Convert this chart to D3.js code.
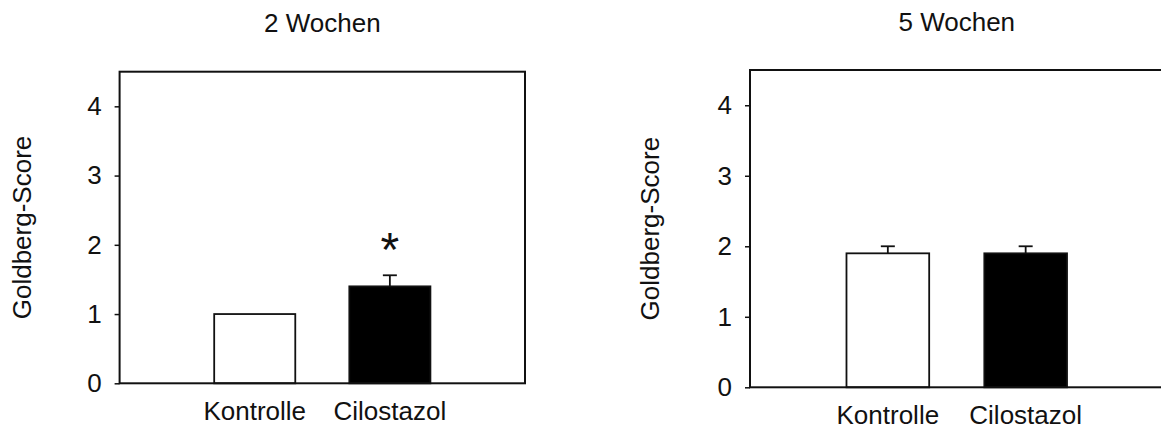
<!DOCTYPE html>
<html>
<head>
<meta charset="utf-8">
<script src="https://cdn.jsdelivr.net/npm/d3@7"></script>
<style>
  html, body { margin: 0; padding: 0; background: #fff; }
  svg { display: block; }
  text { font-family: "Liberation Sans", Arial, sans-serif; fill: #111; }
</style>
</head>
<body>
<svg id="chart" width="1161" height="434"></svg>
<script>
// Goldberg score after 2 and 5 weeks: control vs. cilostazol (mean + SEM)
const categories = ["Kontrolle", "Cilostazol"];
const panelTitles = ["2 Wochen", "5 Wochen"];
const means2w = [1.0, 1.4];
const sem2w = [0, 0.16];
const sig2w = [false, true];
const means5w = [1.9, 1.9];
const sem5w = [0.1, 0.1];
const sig5w = [false, false];
const yTicks = [0, 1, 2, 3, 4];
const yMax = 4.5;
const yTitle = "Goldberg-Score";
const barFills = ["#ffffff", "#000000"];

const panels = [
  { title: panelTitles[0], means: means2w, sems: sem2w, sig: sig2w,
    x0: 119.6, x1: 525, yTop: 71.7, yBottom: 383.3, titleY: 32, labelY: 420, yLabelX: 31 },
  { title: panelTitles[1], means: means5w, sems: sem5w, sig: sig5w,
    x0: 750, x1: 1163.5, yTop: 70, yBottom: 387.3, titleY: 30.5, labelY: 424, yLabelX: 659 }
];

const svg = d3.select("#chart");
const ink = "#111";
const fontSize = 26;

panels.forEach(p => {
  const g = svg.append("g");

  const x = d3.scalePoint().domain(categories).range([p.x0, p.x1]).padding(1);
  const y = d3.scaleLinear().domain([0, yMax]).range([p.yBottom, p.yTop]);
  const barW = x.step() * 0.6;

  const rows = categories.map((c, i) => ({ cat: c, mean: p.means[i], sem: p.sems[i], sig: p.sig[i], fill: barFills[i] }));

  // bars
  g.selectAll("rect.bar").data(rows).join("rect")
    .attr("class", "bar")
    .attr("x", d => x(d.cat) - barW / 2)
    .attr("y", d => y(d.mean))
    .attr("width", barW)
    .attr("height", d => y(0) - y(d.mean))
    .attr("fill", d => d.fill)
    .attr("stroke", ink)
    .attr("stroke-width", 1.8);

  // upward error bars (SEM)
  const err = rows.filter(d => d.sem > 0);
  g.selectAll("line.err").data(err).join("line")
    .attr("class", "err")
    .attr("x1", d => x(d.cat)).attr("x2", d => x(d.cat))
    .attr("y1", d => y(d.mean)).attr("y2", d => y(d.mean + d.sem))
    .attr("stroke", ink).attr("stroke-width", 1.8);
  g.selectAll("line.cap").data(err).join("line")
    .attr("class", "cap")
    .attr("x1", d => x(d.cat) - 7).attr("x2", d => x(d.cat) + 7)
    .attr("y1", d => y(d.mean + d.sem)).attr("y2", d => y(d.mean + d.sem))
    .attr("stroke", ink).attr("stroke-width", 1.8);

  // significance marker
  g.selectAll("text.sig").data(rows.filter(d => d.sig)).join("text")
    .attr("class", "sig")
    .attr("x", d => x(d.cat))
    .attr("y", d => y(d.mean + d.sem) - 9)
    .attr("text-anchor", "middle")
    .style("font-size", "48px")
    .text("*");

  // frame
  g.append("rect")
    .attr("x", p.x0).attr("y", p.yTop)
    .attr("width", p.x1 - p.x0).attr("height", p.yBottom - p.yTop)
    .attr("fill", "none").attr("stroke", ink).attr("stroke-width", 2);

  // y axis
  const ax = g.append("g")
    .attr("transform", `translate(${p.x0},0)`)
    .call(d3.axisLeft(y).tickValues(yTicks).tickSize(5).tickPadding(13).tickFormat(d3.format("d")));
  ax.select(".domain").remove();
  ax.selectAll(".tick line").attr("stroke", ink).attr("stroke-width", 1.5);
  ax.selectAll(".tick text")
    .attr("fill", ink)
    .style("font-size", fontSize + "px")
    .style("font-family", "'Liberation Sans', Arial, sans-serif");

  // category labels
  g.selectAll("text.cat").data(categories).join("text")
    .attr("class", "cat")
    .attr("x", d => x(d))
    .attr("y", p.labelY)
    .attr("text-anchor", "middle")
    .style("font-size", fontSize + "px")
    .text(d => d);

  // y axis title
  g.append("text")
    .attr("transform", `translate(${p.yLabelX},${(p.yTop + p.yBottom) / 2}) rotate(-90)`)
    .attr("text-anchor", "middle")
    .style("font-size", fontSize + "px")
    .text(yTitle);

  // panel title
  g.append("text")
    .attr("x", (p.x0 + p.x1) / 2)
    .attr("y", p.titleY)
    .attr("text-anchor", "middle")
    .style("font-size", fontSize + "px")
    .text(p.title);
});
</script>
</body>
</html>
